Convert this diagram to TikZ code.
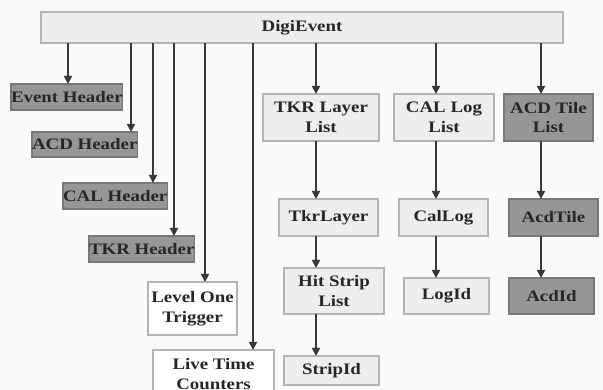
\documentclass[tikz,border=0pt]{standalone}
\usepackage{fontspec}
\setmainfont[FakeStretch=1.18]{Liberation Serif}
\usetikzlibrary{arrows.meta}
\definecolor{boxDark}{HTML}{969696}
\definecolor{boxLight}{HTML}{EEEEEE}
\definecolor{edgeGray}{HTML}{B4B4B4}
\definecolor{arrowGray}{HTML}{383838}
\tikzset{
  box/.style={draw=edgeGray, line width=1.2pt, inner sep=0pt, outer sep=0pt,
    anchor=north west, align=center, text=black!85,
    font=\fontsize{16}{19.5}\selectfont\bfseries},
  darkBox/.style={box, fill=boxDark, draw=boxDark!80!black},
  lightBox/.style={box, fill=boxLight},
  whiteBox/.style={box, fill=white},
  link/.style={draw=arrowGray, line width=1.7pt, -{Triangle[length=8pt,width=8pt]}}
}
\begin{document}
\begin{tikzpicture}[x=1pt,y=-1pt]
      \useasboundingbox (0,0) rectangle (603,390);
      \fill[black!2] (0,0) rectangle (603,390);
      \clip (0,0) rectangle (603,390);
      %top
      \node[lightBox, minimum width=522, minimum height=31] (digiEvent) at (41,12) {DigiEvent};
      %headers
      \node[darkBox, minimum width=110, minimum height=26] (evtHeader) at (11,84) {Event Header};
      \node[darkBox, minimum width=105, minimum height=25] (acdHeader) at (32,132) {ACD Header};
      \node[darkBox, minimum width=100, minimum height=26] (calHeader) at (63,183) {CAL Header};
      \node[darkBox, minimum width=100, minimum height=26] (tkrHeader) at (89,236) {TKR Header};
      \node[whiteBox, minimum width=89, minimum height=53] (levelOne) at (148,282) {Level One\\Trigger};
      \node[whiteBox, minimum width=121, minimum height=48] (liveTime) at (153,350) {Live Time\\Counters};
      %tkr
      \node[lightBox, minimum width=116, minimum height=47] (tkrList) at (263,94) {TKR Layer\\List};
      \node[lightBox, minimum width=99, minimum height=37] (tkrLayer) at (279,199) {TkrLayer};
      \node[lightBox, minimum width=100, minimum height=46] (hitList) at (284,268) {Hit Strip\\List};
      \node[lightBox, minimum width=95, minimum height=29] (stripId) at (284,356) {StripId};
      %cal
      \node[lightBox, minimum width=100, minimum height=47] (calList) at (394,94) {CAL Log\\List};
      \node[lightBox, minimum width=89, minimum height=37] (calLog) at (399,199) {CalLog};
      \node[lightBox, minimum width=85, minimum height=36] (logId) at (404,278) {LogId};
      %acd
      \node[darkBox, minimum width=89, minimum height=47] (acdList) at (504,94) {ACD Tile\\List};
      \node[darkBox, minimum width=89, minimum height=37] (acdTile) at (509,199) {AcdTile};
      \node[darkBox, minimum width=85, minimum height=36] (acdId) at (509,278) {AcdId};
      %arrows
      \foreach \target/\xpos in {evtHeader/68, acdHeader/131, calHeader/153,
          tkrHeader/174, levelOne/205, liveTime/253, tkrList/316, calList/436, acdList/541}
        \draw[link] (digiEvent.south -| \xpos,0) -- (\target.north -| \xpos,0);
      \foreach \from/\to/\xpos in {tkrList/tkrLayer/316, tkrLayer/hitList/316, hitList/stripId/316,
          calList/calLog/436, calLog/logId/436, acdList/acdTile/541, acdTile/acdId/541}
        \draw[link] (\from.south -| \xpos,0) -- (\to.north -| \xpos,0);
\end{tikzpicture}
\end{document}
